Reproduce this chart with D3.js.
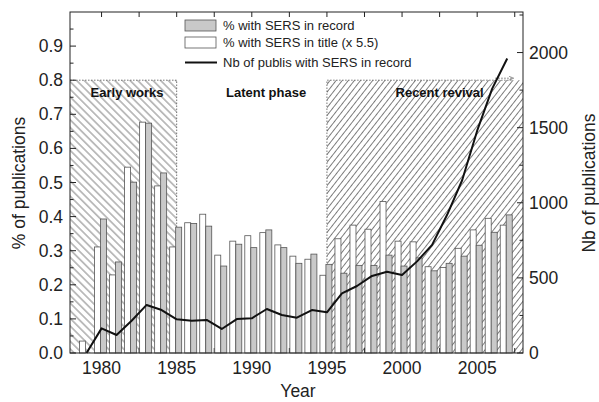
<!DOCTYPE html>
<html>
<head>
<meta charset="utf-8">
<script src="https://cdn.jsdelivr.net/npm/d3@7"></script>
<style>
  html, body { margin: 0; padding: 0; background: #fff; }
  svg { display: block; font-family: "Liberation Sans", Arial, Helvetica, sans-serif; }
</style>
</head>
<body>
<svg id="chart" width="599" height="402"></svg>
<script>
// Publication years
const years = [1979, 1980, 1981, 1982, 1983, 1984, 1985, 1986, 1987, 1988,
               1989, 1990, 1991, 1992, 1993, 1994, 1995, 1996, 1997, 1998,
               1999, 2000, 2001, 2002, 2003, 2004, 2005, 2006, 2007];
// % of publications with SERS in the record
const recordShare = [0.000, 0.393, 0.267, 0.501, 0.674, 0.528, 0.369, 0.380, 0.372, 0.255,
                     0.319, 0.309, 0.361, 0.309, 0.263, 0.290, 0.260, 0.234, 0.257, 0.257,
                     0.287, 0.255, 0.279, 0.241, 0.263, 0.284, 0.316, 0.354, 0.405];
// % of publications with SERS in the title, multiplied by 5.5
const titleShare = [0.035, 0.311, 0.229, 0.545, 0.677, 0.490, 0.311, 0.382, 0.407, 0.287,
                    0.328, 0.344, 0.353, 0.317, 0.284, 0.275, 0.228, 0.335, 0.375, 0.363,
                    0.444, 0.328, 0.326, 0.253, 0.251, 0.307, 0.361, 0.395, 0.375];
// Number of publications with SERS in the record
const publications = [0, 164, 120, 215, 320, 286, 224, 215, 220, 160,
                      226, 231, 293, 253, 235, 286, 271, 397, 446, 513,
                      541, 519, 610, 720, 920, 1150, 1480, 1760, 1960];

const yearTicks = [1980, 1985, 1990, 1995, 2000, 2005];
const topTicks = [1980, 1982.5, 1985, 1987.5, 1990, 1992.5, 1995, 1997.5, 2000, 2002.5, 2005, 2007.5];
const shareTicks = [0, 0.1, 0.2, 0.3, 0.4, 0.5, 0.6, 0.7, 0.8, 0.9];
const shareMinor = [0.05, 0.15, 0.25, 0.35, 0.45, 0.55, 0.65, 0.75, 0.85, 0.95];
const countTicks = [0, 500, 1000, 1500, 2000];
const countMinor = [250, 750, 1250, 1750, 2250];

// Periods of the field
const phases = [
  { name: "Early works", from: 1977.9, to: 1985, hatch: "hatchBack", labelAt: 1981.7 },
  { name: "Latent phase", from: 1985, to: 1995, hatch: null, labelAt: 1990.95 },
  { name: "Recent revival", from: 1995, to: 2008.05, hatch: "hatchFwd", labelAt: 2002.5 }
];
const phaseTop = 0.8;

const legendItems = [
  { label: "% with SERS in record", kind: "record" },
  { label: "% with SERS in title (x 5.5)", kind: "title" },
  { label: "Nb of publis with SERS in record", kind: "line" }
];

const L = 70, R = 523, T = 12, B = 353;
const x = d3.scaleLinear().domain([1977.9, 2008.05]).range([L, R]);
const y = d3.scaleLinear().domain([0, 1]).range([B, T]);
const y2 = d3.scaleLinear().domain([0, 2270]).range([B, T]);

const svg = d3.select("#chart");
const defs = svg.append("defs");

function hatchPattern(id, angle, gap) {
  const p = defs.append("pattern")
    .attr("id", id)
    .attr("patternUnits", "userSpaceOnUse")
    .attr("width", gap).attr("height", 10)
    .attr("patternTransform", `rotate(${angle})`);
  p.append("line").attr("x1", gap / 2).attr("x2", gap / 2).attr("y1", 0).attr("y2", 10)
    .attr("stroke", "#444").attr("stroke-width", 0.7);
}
hatchPattern("hatchBack", -45, 5.4);
hatchPattern("hatchFwd", 38, 4.8);

const ink = "#222";
const BAR_W = 6;

// Hatched period areas
const hatched = phases.filter(d => d.hatch);
svg.append("g").selectAll("rect").data(hatched).join("rect")
  .attr("x", d => x(d.from)).attr("y", y(phaseTop))
  .attr("width", d => x(d.to) - x(d.from)).attr("height", y(0) - y(phaseTop))
  .attr("fill", d => `url(#${d.hatch})`);

// Dotted borders of the period areas
const dotted = svg.append("g").attr("stroke", "#555").attr("stroke-width", 0.8)
  .attr("stroke-dasharray", "1.5,1.5").attr("fill", "none");
dotted.append("path")
  .attr("d", `M${x(phases[0].from)},${y(phaseTop)}H${x(phases[0].to)}V${y(0)}`);
dotted.append("path")
  .attr("d", `M${x(phases[2].from)},${y(0)}V${y(phaseTop)}H${x(2007.3)}`);
// arrow showing the period continues
defs.append("marker").attr("id", "arrowHead").attr("viewBox", "0 0 10 10")
  .attr("refX", 9).attr("refY", 5).attr("markerWidth", 6).attr("markerHeight", 6)
  .attr("orient", "auto")
  .append("path").attr("d", "M0,1L10,5L0,9").attr("fill", "none").attr("stroke", "#555").attr("stroke-width", 1.2);
svg.append("line")
  .attr("x1", x(2006.2)).attr("x2", x(2007.4)).attr("y1", y(phaseTop) - 2).attr("y2", y(phaseTop) - 2)
  .attr("stroke", "#555").attr("stroke-width", 0.8).attr("stroke-dasharray", "1.5,1.5")
  .attr("marker-end", "url(#arrowHead)");

// Bottom ticks (under the bars)
svg.append("g").selectAll("line").data(topTicks).join("line")
  .attr("x1", d => x(d)).attr("x2", d => x(d)).attr("y1", B).attr("y2", B - 5)
  .attr("stroke", ink).attr("stroke-width", 1);

// Bars
const rows = years.map((yr, i) => ({ yr, rec: recordShare[i], tit: titleShare[i], n: publications[i] }));
const bars = svg.append("g").attr("stroke", "#555").attr("stroke-width", 0.8);
bars.selectAll("rect.tit").data(rows).join("rect").attr("class", "tit")
  .attr("x", d => x(d.yr) - 7).attr("width", BAR_W)
  .attr("y", d => y(d.tit)).attr("height", d => y(0) - y(d.tit))
  .attr("fill", "#ffffff");
bars.selectAll("rect.rec").data(rows.filter(d => d.rec > 0)).join("rect").attr("class", "rec")
  .attr("x", d => x(d.yr) - 1).attr("width", BAR_W)
  .attr("y", d => y(d.rec)).attr("height", d => y(0) - y(d.rec))
  .attr("fill", "#c9c9c9");

// Publication count line
svg.append("path").datum(rows)
  .attr("d", d3.line().x(d => x(d.yr)).y(d => y2(d.n)))
  .attr("fill", "none").attr("stroke", "#111").attr("stroke-width", 2)
  .attr("stroke-linejoin", "round");

// Frame
svg.append("rect").attr("x", L).attr("y", T).attr("width", R - L).attr("height", B - T)
  .attr("fill", "none").attr("stroke", ink).attr("stroke-width", 1);

// Ticks: left, right, top (all inward)
const ticks = svg.append("g").attr("stroke", ink).attr("stroke-width", 1);
ticks.selectAll("line.lmaj").data(shareTicks).join("line").attr("class", "lmaj")
  .attr("x1", L).attr("x2", L + 6).attr("y1", d => y(d)).attr("y2", d => y(d));
ticks.selectAll("line.lmin").data(shareMinor).join("line").attr("class", "lmin")
  .attr("x1", L).attr("x2", L + 3.5).attr("y1", d => y(d)).attr("y2", d => y(d));
ticks.selectAll("line.rmaj").data(countTicks).join("line").attr("class", "rmaj")
  .attr("x1", R).attr("x2", R - 6).attr("y1", d => y2(d)).attr("y2", d => y2(d));
ticks.selectAll("line.rmin").data(countMinor).join("line").attr("class", "rmin")
  .attr("x1", R).attr("x2", R - 3.5).attr("y1", d => y2(d)).attr("y2", d => y2(d));
ticks.selectAll("line.top").data(topTicks).join("line").attr("class", "top")
  .attr("x1", d => x(d)).attr("x2", d => x(d)).attr("y1", T).attr("y2", T + 5);

// Tick labels
const tickFont = 17.5;
svg.append("g").selectAll("text").data(shareTicks).join("text")
  .attr("x", L - 7).attr("y", d => y(d)).attr("text-anchor", "end")
  .attr("dominant-baseline", "central").attr("font-size", tickFont).attr("fill", ink)
  .text(d3.format(".1f"));
svg.append("g").selectAll("text").data(countTicks).join("text")
  .attr("x", R + 6).attr("y", d => y2(d)).attr("text-anchor", "start")
  .attr("dominant-baseline", "central").attr("font-size", tickFont).attr("fill", ink)
  .text(d => d);
svg.append("g").selectAll("text").data(yearTicks).join("text")
  .attr("x", d => x(d)).attr("y", 374).attr("text-anchor", "middle")
  .attr("font-size", tickFont).attr("fill", ink)
  .text(d => d);

// Axis titles
svg.append("text").attr("x", 298).attr("y", 397).attr("text-anchor", "middle")
  .attr("font-size", tickFont).attr("fill", ink).text("Year");
svg.append("text").attr("transform", "translate(19,183) rotate(-90)")
  .attr("text-anchor", "middle").attr("dominant-baseline", "central")
  .attr("font-size", tickFont).attr("fill", ink).text("% of publications");
svg.append("text").attr("transform", "translate(589,183) rotate(-90)")
  .attr("text-anchor", "middle").attr("dominant-baseline", "central")
  .attr("font-size", tickFont).attr("fill", ink).text("Nb of publications");

// Period names
svg.append("g").selectAll("text").data(phases).join("text")
  .attr("x", d => x(d.labelAt))
  .attr("y", 97).attr("text-anchor", "middle")
  .attr("font-size", 13).attr("font-weight", "bold").attr("fill", "#111")
  .text(d => d.name);

// Legend
const lg = svg.append("g").attr("transform", "translate(185,20)");
const rowY = [5.5, 22.5, 42.5];
legendItems.forEach((d, i) => {
  if (d.kind === "line") {
    lg.append("line").attr("x1", 0).attr("x2", 32).attr("y1", rowY[i]).attr("y2", rowY[i])
      .attr("stroke", "#111").attr("stroke-width", 2);
  } else {
    lg.append("rect").attr("x", 0).attr("y", rowY[i] - 5.5).attr("width", 31).attr("height", 11)
      .attr("fill", d.kind === "record" ? "#c9c9c9" : "#fff")
      .attr("stroke", "#555").attr("stroke-width", 0.8);
  }
  lg.append("text").attr("x", 38).attr("y", rowY[i]).attr("dominant-baseline", "central")
    .attr("font-size", 13).attr("fill", ink).text(d.label);
});
</script>
</body>
</html>
